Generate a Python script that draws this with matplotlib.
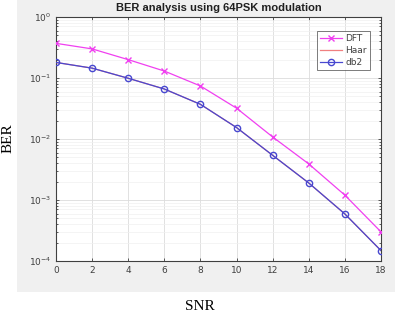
import matplotlib
matplotlib.use("Agg")
import matplotlib.pyplot as plt
from matplotlib.patches import Rectangle
from matplotlib.ticker import LogLocator, NullFormatter

snr = [0, 2, 4, 6, 8, 10, 12, 14, 16, 18]
ber_dft = [0.37, 0.30, 0.20, 0.13, 0.074, 0.032, 0.0108, 0.0039, 0.0012, 0.0003]
ber_haar = [0.18, 0.145, 0.099, 0.066, 0.037, 0.0154, 0.0054, 0.0019, 0.00059, 0.000148]
ber_db2 = [0.18, 0.145, 0.099, 0.066, 0.037, 0.0154, 0.0054, 0.0019, 0.00059, 0.000148]
xticks = [0, 2, 4, 6, 8, 10, 12, 14, 16, 18]

fig = plt.figure(figsize=(3.95, 3.16), dpi=100)
fig.patch.set_facecolor("white")
fig.add_artist(Rectangle((17/395, 1-292/316), 1-17/395, 292/316,
                         transform=fig.transFigure, facecolor="#f0f0f0",
                         edgecolor="none", zorder=0))

ax = fig.add_axes([56/395, 1-261/316, (381-56)/395, (261-17)/316])
ax.set_facecolor("white")
ax.plot(snr, ber_dft, color="#f040f0", marker="x", markersize=4, lw=0.9, label="DFT", zorder=3)
ax.plot(snr, ber_haar, color="#f08080", lw=0.9, label="Haar", zorder=3)
ax.plot(snr, ber_db2, color="#4848d0", marker="o", markersize=4.5, mfc="none", lw=0.9, label="db2", zorder=4)

ax.set_yscale("log")
ax.set_ylim(1e-4, 1)
ax.set_xlim(0, 18)
ax.set_xticks(xticks)
ax.yaxis.set_major_locator(LogLocator(base=10, numticks=10))
ax.yaxis.set_minor_locator(LogLocator(base=10, subs=range(2, 10), numticks=20))
ax.yaxis.set_minor_formatter(NullFormatter())
ax.grid(True, which="major", color="#dcdcdc", lw=0.6)
ax.grid(True, which="minor", axis="y", color="#f0f0f0", lw=0.5)
ax.set_axisbelow(True)
ax.tick_params(which="both", direction="in", top=True, right=True, labelsize=6.5,
               labelcolor="#404040", color="#404040", length=2.5, width=0.6)
ax.tick_params(which="minor", length=1.5)
for s in ax.spines.values():
    s.set_color("#404040")
    s.set_linewidth(0.8)

ax.set_title("BER analysis using 64PSK modulation", fontsize=8, fontweight="bold",
             color="#202020", pad=4, family="Liberation Sans")
leg = ax.legend(loc="upper right", fontsize=6.5, frameon=True, fancybox=False,
                edgecolor="#404040", handlelength=2.4, borderpad=0.35, labelspacing=0.3,
                handletextpad=0.4, bbox_to_anchor=(0.98, 0.96))
leg.get_frame().set_linewidth(0.6)
for t in leg.get_texts():
    t.set_color("#404040")

fig.text(8/395, 1-138/316, "BER", rotation=90, ha="center", va="center",
         fontsize=11, family="Liberation Serif")
fig.text(200/395, 1-306/316, "SNR", ha="center", va="center",
         fontsize=11, family="Liberation Serif")

fig.savefig("out.png", dpi=100)
